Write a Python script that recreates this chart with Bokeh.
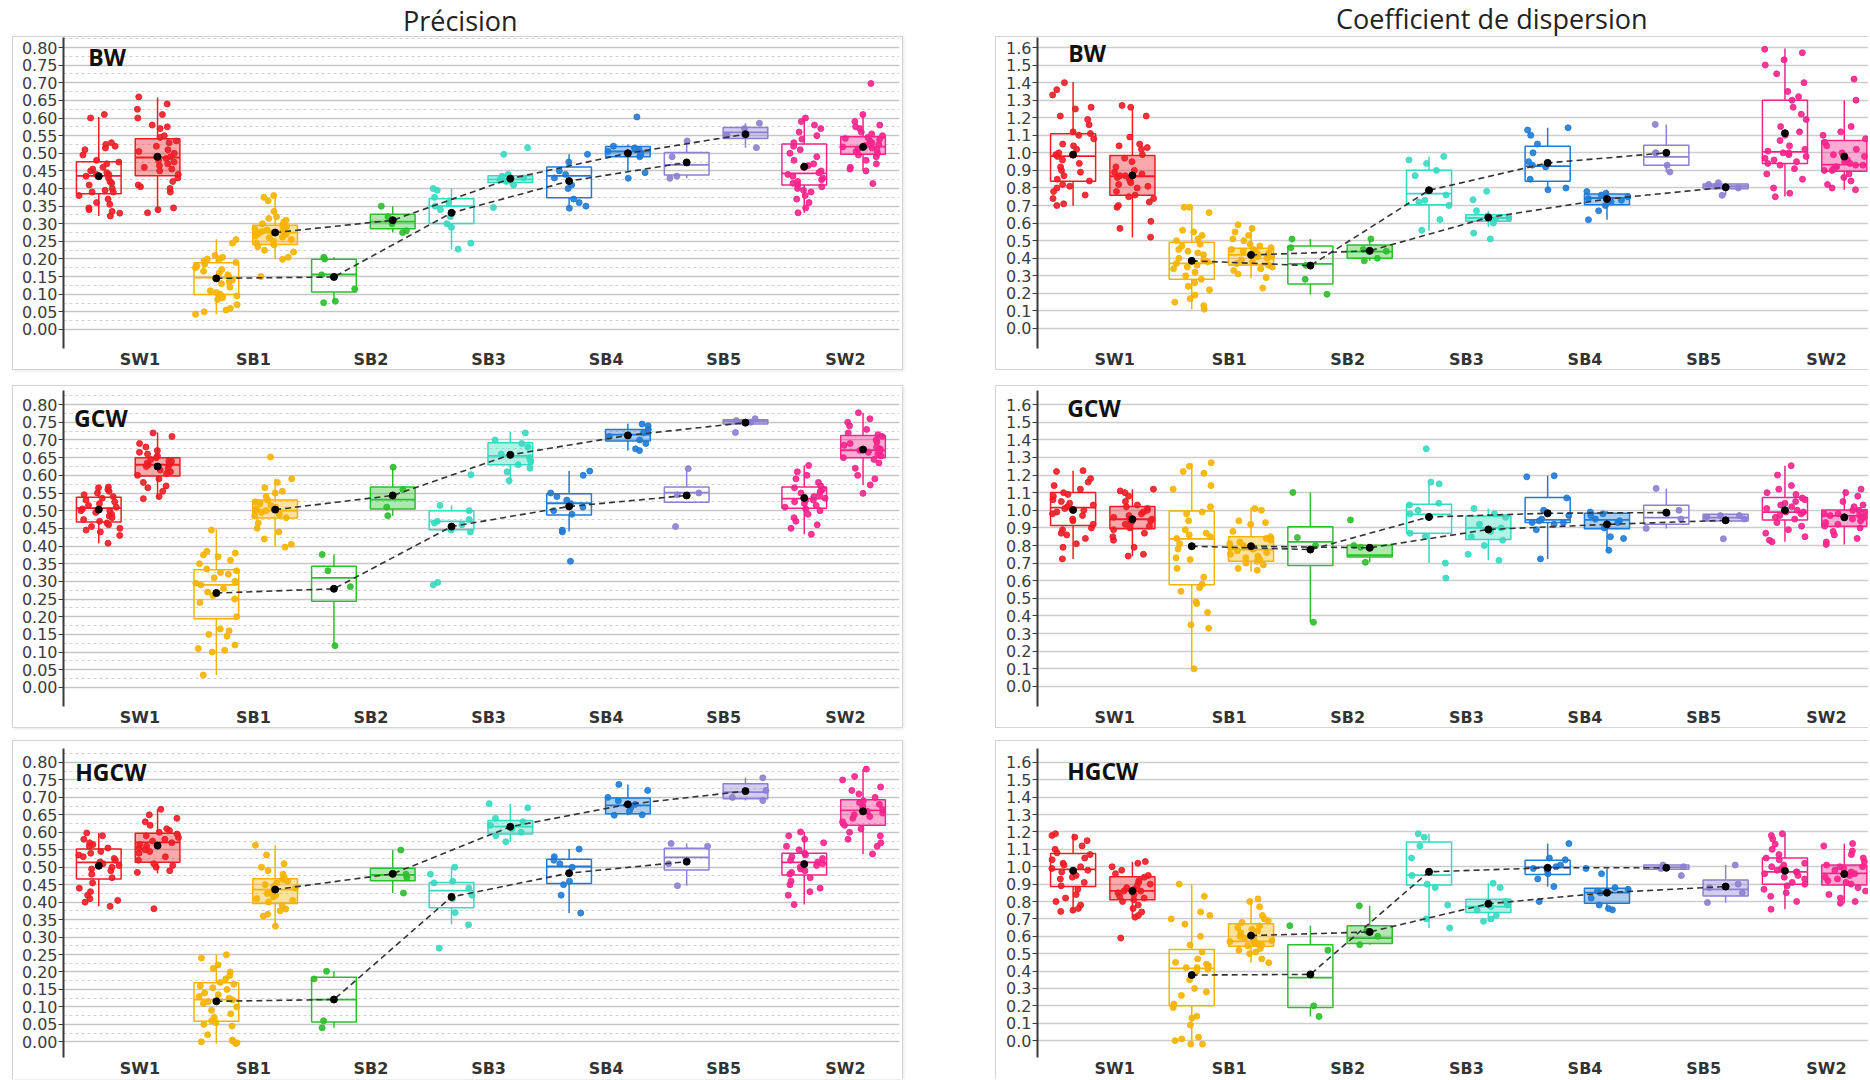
import math
from bokeh.plotting import figure
from bokeh.models import FixedTicker, Label, Div, Range1d, NumeralTickFormatter
from bokeh.layouts import column, row
from bokeh.embed import file_html
from bokeh.resources import INLINE

GROUPS = ["SW1", "SB1", "SB2", "SB3", "SB4", "SB5", "SW2"]
COLORS = ["#ee1d25", "#f6b300", "#2cbf2c", "#36d9c1", "#1f7bd6", "#8d7fd3", "#f7248c"]
TITLE_LEFT = "Précision"
TITLE_RIGHT = "Coefficient de dispersion"
TAGS = ["BW", "GCW", "HGCW"]

# ---------------- Précision / BW ----------------
PBW_O_LOW = [0.322, 0.043, 0.076, 0.227, 0.344, 0.429, 0.331]
PBW_O_Q1 = [0.385, 0.099, 0.106, 0.301, 0.374, 0.438, 0.410]
PBW_O_MED = [0.436, 0.147, 0.156, 0.350, 0.436, 0.467, 0.443]
PBW_O_Q3 = [0.476, 0.189, 0.199, 0.371, 0.461, 0.502, 0.526]
PBW_O_HIGH = [0.603, 0.256, 0.205, 0.400, 0.497, 0.535, 0.601]
PBW_O_MEAN = [0.435, 0.145, 0.149, 0.331, 0.421, 0.474, 0.462]
PBW_O_PTS = [
    [0.322, 0.33, 0.335, 0.34, 0.345, 0.355, 0.36, 0.37, 0.38, 0.39, 0.39, 0.395, 0.40, 0.41, 0.415, 0.42, 0.43, 0.435, 0.44, 0.44, 0.445, 0.45, 0.455, 0.46, 0.47, 0.475, 0.48, 0.495, 0.51, 0.515, 0.52, 0.525, 0.53, 0.60, 0.61],
    [0.043, 0.05, 0.055, 0.06, 0.07, 0.085, 0.09, 0.095, 0.10, 0.105, 0.11, 0.12, 0.13, 0.135, 0.14, 0.145, 0.15, 0.155, 0.16, 0.165, 0.17, 0.175, 0.18, 0.185, 0.19, 0.195, 0.20, 0.20, 0.205, 0.21, 0.245, 0.255],
    [0.076, 0.08, 0.115, 0.155, 0.20, 0.205],
    [0.228, 0.245, 0.29, 0.30, 0.32, 0.34, 0.35, 0.36, 0.375, 0.395, 0.40],
    [0.344, 0.35, 0.36, 0.37, 0.40, 0.41, 0.43, 0.44, 0.45, 0.475, 0.497],
    [0.429, 0.435, 0.49, 0.535],
    [0.331, 0.345, 0.36, 0.37, 0.38, 0.39, 0.395, 0.40, 0.405, 0.41, 0.415, 0.42, 0.425, 0.43, 0.435, 0.44, 0.445, 0.45, 0.46, 0.465, 0.47, 0.48, 0.49, 0.50, 0.51, 0.52, 0.53, 0.54, 0.55, 0.56, 0.57, 0.58, 0.59, 0.60],
]
PBW_F_LOW = [0.331, 0.199, 0.275, 0.410, 0.450, 0.516, 0.450]
PBW_F_Q1 = [0.436, 0.241, 0.286, 0.417, 0.490, 0.542, 0.497]
PBW_F_MED = [0.488, 0.275, 0.306, 0.426, 0.505, 0.559, 0.519]
PBW_F_Q3 = [0.541, 0.296, 0.327, 0.436, 0.519, 0.573, 0.547]
PBW_F_HIGH = [0.658, 0.374, 0.350, 0.445, 0.525, 0.585, 0.611]
PBW_F_MEAN = [0.490, 0.275, 0.310, 0.428, 0.500, 0.554, 0.518]
PBW_F_PTS = [
    [0.331, 0.34, 0.345, 0.39, 0.40, 0.405, 0.41, 0.42, 0.43, 0.44, 0.45, 0.455, 0.46, 0.465, 0.47, 0.475, 0.48, 0.485, 0.49, 0.49, 0.50, 0.505, 0.51, 0.52, 0.53, 0.535, 0.545, 0.55, 0.57, 0.575, 0.58, 0.60, 0.61, 0.625, 0.64, 0.66],
    [0.15, 0.199, 0.205, 0.22, 0.225, 0.235, 0.24, 0.245, 0.25, 0.255, 0.26, 0.262, 0.265, 0.27, 0.272, 0.275, 0.278, 0.28, 0.282, 0.285, 0.29, 0.292, 0.295, 0.30, 0.305, 0.31, 0.315, 0.32, 0.335, 0.365, 0.375, 0.38],
    [0.275, 0.28, 0.30, 0.31, 0.32, 0.35],
    [0.346, 0.41, 0.42, 0.425, 0.43, 0.435, 0.44, 0.497, 0.516],
    [0.429, 0.445, 0.49, 0.495, 0.50, 0.505, 0.51, 0.515, 0.52, 0.603],
    [0.516, 0.55, 0.57, 0.585],
    [0.414, 0.45, 0.455, 0.46, 0.47, 0.48, 0.49, 0.495, 0.50, 0.505, 0.51, 0.512, 0.515, 0.518, 0.52, 0.522, 0.525, 0.53, 0.535, 0.54, 0.542, 0.545, 0.55, 0.555, 0.56, 0.57, 0.575, 0.58, 0.59, 0.61, 0.698],
]

# ---------------- Précision / GCW ----------------
PGCW_O_LOW = [0.408, 0.035, 0.118, 0.440, 0.442, 0.524, 0.433]
PGCW_O_Q1 = [0.468, 0.194, 0.244, 0.446, 0.488, 0.524, 0.507]
PGCW_O_MED = [0.507, 0.290, 0.310, 0.470, 0.521, 0.551, 0.534]
PGCW_O_Q3 = [0.538, 0.333, 0.343, 0.500, 0.548, 0.567, 0.567]
PGCW_O_HIGH = [0.567, 0.447, 0.376, 0.515, 0.612, 0.619, 0.628]
PGCW_O_MEAN = [0.503, 0.267, 0.279, 0.455, 0.512, 0.543, 0.536]
PGCW_O_PTS = [
    [0.408, 0.43, 0.44, 0.445, 0.45, 0.455, 0.46, 0.465, 0.47, 0.475, 0.48, 0.485, 0.49, 0.495, 0.50, 0.50, 0.505, 0.51, 0.515, 0.52, 0.525, 0.53, 0.535, 0.54, 0.545, 0.55, 0.555, 0.56, 0.565, 0.567],
    [0.035, 0.10, 0.105, 0.11, 0.12, 0.145, 0.15, 0.16, 0.165, 0.20, 0.24, 0.25, 0.26, 0.27, 0.28, 0.29, 0.295, 0.30, 0.31, 0.32, 0.325, 0.33, 0.335, 0.35, 0.36, 0.37, 0.375, 0.38, 0.385, 0.445],
    [0.118, 0.285, 0.33, 0.376],
    [0.29, 0.297, 0.44, 0.445, 0.46, 0.465, 0.47, 0.475, 0.50, 0.515, 0.602],
    [0.357, 0.44, 0.445, 0.49, 0.50, 0.51, 0.52, 0.53, 0.54, 0.55, 0.60, 0.612],
    [0.455, 0.545, 0.55, 0.619],
    [0.433, 0.45, 0.46, 0.47, 0.48, 0.49, 0.50, 0.505, 0.51, 0.515, 0.52, 0.525, 0.53, 0.53, 0.535, 0.54, 0.545, 0.55, 0.555, 0.56, 0.565, 0.57, 0.58, 0.59, 0.60, 0.61, 0.628],
]
PGCW_F_LOW = [0.534, 0.397, 0.486, 0.584, 0.670, 0.745, 0.573]
PGCW_F_Q1 = [0.598, 0.479, 0.505, 0.630, 0.697, 0.745, 0.650]
PGCW_F_MED = [0.630, 0.500, 0.531, 0.655, 0.715, 0.753, 0.671]
PGCW_F_Q3 = [0.650, 0.530, 0.567, 0.692, 0.730, 0.757, 0.713]
PGCW_F_HIGH = [0.721, 0.590, 0.623, 0.723, 0.746, 0.760, 0.777]
PGCW_F_MEAN = [0.625, 0.503, 0.543, 0.658, 0.713, 0.749, 0.673]
PGCW_F_PTS = [
    [0.534, 0.54, 0.555, 0.565, 0.57, 0.58, 0.59, 0.60, 0.605, 0.61, 0.615, 0.62, 0.625, 0.63, 0.63, 0.635, 0.64, 0.64, 0.645, 0.65, 0.655, 0.66, 0.665, 0.67, 0.68, 0.69, 0.71, 0.72],
    [0.397, 0.405, 0.42, 0.44, 0.45, 0.465, 0.48, 0.485, 0.49, 0.495, 0.50, 0.50, 0.505, 0.51, 0.515, 0.52, 0.525, 0.53, 0.54, 0.55, 0.555, 0.565, 0.58, 0.59, 0.652],
    [0.486, 0.51, 0.56, 0.623],
    [0.585, 0.61, 0.62, 0.63, 0.64, 0.65, 0.66, 0.68, 0.69, 0.70, 0.72],
    [0.67, 0.675, 0.69, 0.70, 0.71, 0.72, 0.73, 0.74, 0.745],
    [0.721, 0.75, 0.755, 0.76],
    [0.549, 0.573, 0.59, 0.60, 0.62, 0.635, 0.645, 0.65, 0.655, 0.66, 0.665, 0.67, 0.67, 0.675, 0.68, 0.685, 0.69, 0.695, 0.70, 0.71, 0.715, 0.72, 0.73, 0.74, 0.75, 0.76, 0.777],
]

# ---------------- Précision / HGCW ----------------
PHGCW_O_LOW = [0.388, -0.005, 0.040, 0.336, 0.369, 0.447, 0.393]
PHGCW_O_Q1 = [0.466, 0.059, 0.057, 0.384, 0.453, 0.492, 0.478]
PHGCW_O_MED = [0.514, 0.121, 0.121, 0.433, 0.502, 0.528, 0.514]
PHGCW_O_Q3 = [0.552, 0.169, 0.185, 0.456, 0.523, 0.554, 0.540]
PHGCW_O_HIGH = [0.598, 0.249, 0.202, 0.500, 0.552, 0.568, 0.601]
PHGCW_O_MEAN = [0.504, 0.116, 0.121, 0.415, 0.483, 0.516, 0.509]
PHGCW_O_PTS = [
    [0.388, 0.40, 0.405, 0.41, 0.42, 0.43, 0.44, 0.455, 0.47, 0.48, 0.49, 0.495, 0.50, 0.505, 0.51, 0.515, 0.52, 0.525, 0.53, 0.535, 0.54, 0.545, 0.555, 0.56, 0.565, 0.57, 0.58, 0.59, 0.598],
    [-0.005, -0.003, 0.0, 0.002, 0.005, 0.02, 0.045, 0.05, 0.055, 0.06, 0.07, 0.08, 0.09, 0.10, 0.11, 0.115, 0.12, 0.125, 0.13, 0.135, 0.14, 0.15, 0.155, 0.16, 0.165, 0.17, 0.18, 0.19, 0.20, 0.21, 0.22, 0.24, 0.249],
    [0.04, 0.06, 0.18, 0.202],
    [0.268, 0.335, 0.37, 0.41, 0.42, 0.44, 0.455, 0.46, 0.48, 0.50],
    [0.369, 0.42, 0.45, 0.46, 0.50, 0.51, 0.52, 0.53, 0.552],
    [0.447, 0.51, 0.56, 0.568],
    [0.393, 0.42, 0.43, 0.44, 0.45, 0.46, 0.47, 0.48, 0.485, 0.49, 0.495, 0.50, 0.505, 0.51, 0.515, 0.52, 0.525, 0.53, 0.535, 0.54, 0.55, 0.56, 0.57, 0.58, 0.59, 0.601],
]
PHGCW_F_LOW = [0.483, 0.331, 0.426, 0.573, 0.649, 0.691, 0.538]
PHGCW_F_Q1 = [0.514, 0.396, 0.461, 0.595, 0.653, 0.696, 0.620]
PHGCW_F_MED = [0.571, 0.436, 0.478, 0.616, 0.677, 0.715, 0.663]
PHGCW_F_Q3 = [0.597, 0.467, 0.497, 0.634, 0.698, 0.739, 0.693]
PHGCW_F_HIGH = [0.666, 0.563, 0.549, 0.682, 0.737, 0.756, 0.781]
PHGCW_F_MEAN = [0.562, 0.436, 0.481, 0.616, 0.680, 0.718, 0.660]
PHGCW_F_PTS = [
    [0.381, 0.485, 0.49, 0.50, 0.505, 0.51, 0.52, 0.53, 0.54, 0.545, 0.55, 0.555, 0.56, 0.565, 0.57, 0.575, 0.58, 0.585, 0.59, 0.595, 0.60, 0.605, 0.61, 0.62, 0.63, 0.64, 0.65, 0.666],
    [0.331, 0.36, 0.365, 0.375, 0.38, 0.39, 0.40, 0.405, 0.41, 0.415, 0.42, 0.425, 0.43, 0.435, 0.44, 0.445, 0.45, 0.455, 0.46, 0.465, 0.47, 0.48, 0.49, 0.50, 0.51, 0.535, 0.563],
    [0.426, 0.47, 0.48, 0.549],
    [0.573, 0.59, 0.60, 0.61, 0.62, 0.63, 0.64, 0.67, 0.682],
    [0.649, 0.65, 0.66, 0.67, 0.68, 0.69, 0.70, 0.72, 0.737],
    [0.691, 0.70, 0.72, 0.756],
    [0.538, 0.56, 0.57, 0.58, 0.59, 0.60, 0.61, 0.62, 0.63, 0.64, 0.645, 0.65, 0.655, 0.66, 0.665, 0.67, 0.675, 0.68, 0.685, 0.69, 0.70, 0.71, 0.72, 0.73, 0.75, 0.76, 0.781],
]

# ---------------- Coefficient de dispersion / BW ----------------
CBW_O_LOW = [0.699, 0.110, 0.194, 0.556, 0.790, 0.891, 0.752]
CBW_O_Q1 = [0.838, 0.280, 0.253, 0.705, 0.838, 0.930, 0.939]
CBW_O_MED = [0.981, 0.371, 0.368, 0.768, 0.924, 0.977, 1.006]
CBW_O_Q3 = [1.109, 0.491, 0.470, 0.901, 1.038, 1.044, 1.299]
CBW_O_HIGH = [1.404, 0.690, 0.509, 0.979, 1.143, 1.162, 1.594]
CBW_O_MEAN = [0.990, 0.385, 0.358, 0.787, 0.943, 1.000, 1.112]
CBW_O_PTS = [
    [0.70, 0.71, 0.74, 0.76, 0.78, 0.80, 0.81, 0.82, 0.84, 0.85, 0.87, 0.89, 0.90, 0.92, 0.94, 0.96, 0.98, 0.99, 1.00, 1.02, 1.04, 1.05, 1.08, 1.10, 1.11, 1.12, 1.16, 1.19, 1.21, 1.25, 1.26, 1.33, 1.36, 1.40],
    [0.11, 0.13, 0.15, 0.17, 0.19, 0.22, 0.24, 0.26, 0.28, 0.30, 0.32, 0.34, 0.35, 0.36, 0.37, 0.38, 0.39, 0.40, 0.42, 0.43, 0.44, 0.45, 0.47, 0.48, 0.50, 0.51, 0.53, 0.55, 0.56, 0.66, 0.69, 0.69],
    [0.195, 0.28, 0.36, 0.46, 0.509],
    [0.56, 0.62, 0.70, 0.72, 0.73, 0.76, 0.87, 0.90, 0.94, 0.96, 0.98],
    [0.79, 0.80, 0.85, 0.92, 0.93, 0.95, 1.00, 1.05, 1.10, 1.13, 1.143],
    [0.891, 0.93, 1.00, 1.00, 1.162],
    [0.75, 0.77, 0.80, 0.85, 0.88, 0.91, 0.93, 0.94, 0.95, 0.96, 0.97, 0.98, 0.99, 1.00, 1.00, 1.01, 1.02, 1.04, 1.07, 1.10, 1.12, 1.15, 1.19, 1.22, 1.26, 1.30, 1.32, 1.35, 1.40, 1.45, 1.50, 1.53, 1.57, 1.59],
]
CBW_F_LOW = [0.518, 0.286, 0.385, 0.580, 0.619, 0.758, 0.790]
CBW_F_Q1 = [0.758, 0.362, 0.400, 0.610, 0.705, 0.796, 0.895]
CBW_F_MED = [0.867, 0.419, 0.438, 0.629, 0.743, 0.810, 0.933]
CBW_F_Q3 = [0.985, 0.457, 0.476, 0.648, 0.766, 0.823, 1.070]
CBW_F_HIGH = [1.261, 0.581, 0.510, 0.670, 0.790, 0.830, 1.300]
CBW_F_MEAN = [0.872, 0.419, 0.442, 0.632, 0.737, 0.804, 0.979]
CBW_F_PTS = [
    [0.52, 0.57, 0.61, 0.69, 0.70, 0.72, 0.74, 0.75, 0.76, 0.78, 0.80, 0.81, 0.82, 0.83, 0.84, 0.85, 0.86, 0.87, 0.87, 0.88, 0.89, 0.90, 0.92, 0.95, 0.97, 0.99, 1.02, 1.03, 1.04, 1.05, 1.09, 1.21, 1.26, 1.27],
    [0.23, 0.29, 0.31, 0.33, 0.34, 0.35, 0.36, 0.37, 0.38, 0.39, 0.40, 0.41, 0.41, 0.42, 0.42, 0.43, 0.43, 0.44, 0.44, 0.45, 0.45, 0.46, 0.47, 0.48, 0.50, 0.51, 0.53, 0.55, 0.57, 0.59],
    [0.385, 0.40, 0.44, 0.45, 0.51],
    [0.51, 0.543, 0.60, 0.62, 0.63, 0.64, 0.67, 0.733, 0.781],
    [0.619, 0.67, 0.70, 0.72, 0.73, 0.74, 0.75, 0.76, 0.77, 0.78],
    [0.758, 0.80, 0.81, 0.82, 0.83],
    [0.79, 0.80, 0.82, 0.84, 0.86, 0.88, 0.90, 0.90, 0.91, 0.92, 0.92, 0.93, 0.93, 0.94, 0.95, 0.96, 0.98, 0.99, 1.00, 1.02, 1.04, 1.06, 1.08, 1.10, 1.12, 1.15, 1.30, 1.42],
]

# ---------------- Coefficient de dispersion / GCW ----------------
CGCW_O_LOW = [0.724, 0.095, 0.364, 0.701, 0.724, 0.897, 0.821]
CGCW_O_Q1 = [0.914, 0.577, 0.686, 0.869, 0.930, 0.920, 0.945]
CGCW_O_MED = [1.015, 0.838, 0.821, 0.977, 0.945, 0.958, 0.990]
CGCW_O_Q3 = [1.101, 0.996, 0.907, 1.034, 1.072, 1.029, 1.072]
CGCW_O_HIGH = [1.225, 1.267, 1.101, 1.154, 1.196, 1.124, 1.253]
CGCW_O_MEAN = [1.002, 0.796, 0.777, 0.962, 0.983, 0.987, 1.000]
CGCW_O_PTS = [
    [0.724, 0.79, 0.81, 0.84, 0.86, 0.87, 0.89, 0.90, 0.92, 0.94, 0.95, 0.97, 0.98, 0.99, 1.00, 1.01, 1.02, 1.03, 1.04, 1.05, 1.06, 1.08, 1.09, 1.10, 1.12, 1.14, 1.16, 1.18, 1.22, 1.225],
    [0.10, 0.33, 0.35, 0.42, 0.47, 0.48, 0.54, 0.56, 0.58, 0.62, 0.67, 0.72, 0.73, 0.78, 0.81, 0.84, 0.85, 0.86, 0.87, 0.89, 0.94, 0.98, 0.99, 1.02, 1.12, 1.14, 1.21, 1.22, 1.25, 1.27],
    [0.364, 0.80, 0.845, 1.101],
    [0.615, 0.70, 0.85, 0.87, 0.96, 0.98, 1.00, 1.03, 1.04, 1.15, 1.16, 1.349],
    [0.724, 0.89, 0.92, 0.93, 0.93, 0.94, 0.95, 0.97, 1.00, 1.07, 1.19, 1.196],
    [0.897, 0.95, 0.98, 1.00, 1.124],
    [0.821, 0.83, 0.85, 0.87, 0.89, 0.91, 0.93, 0.95, 0.96, 0.97, 0.98, 0.99, 0.99, 1.00, 1.01, 1.02, 1.03, 1.04, 1.05, 1.06, 1.07, 1.09, 1.10, 1.12, 1.14, 1.20, 1.253],
]
CGCW_F_LOW = [0.739, 0.653, 0.705, 0.716, 0.773, 0.939, 0.806]
CGCW_F_Q1 = [0.895, 0.710, 0.735, 0.834, 0.895, 0.939, 0.910]
CGCW_F_MED = [0.949, 0.777, 0.745, 0.900, 0.945, 0.958, 0.968]
CGCW_F_Q3 = [1.021, 0.850, 0.802, 0.968, 0.983, 0.977, 1.002]
CGCW_F_HIGH = [1.120, 1.015, 0.802, 1.010, 0.996, 0.977, 1.120]
CGCW_F_MEAN = [0.949, 0.796, 0.787, 0.891, 0.920, 0.943, 0.960]
CGCW_F_PTS = [
    [0.74, 0.75, 0.79, 0.83, 0.85, 0.87, 0.89, 0.90, 0.91, 0.92, 0.93, 0.94, 0.94, 0.95, 0.95, 0.96, 0.97, 0.98, 0.99, 1.00, 1.01, 1.02, 1.03, 1.05, 1.08, 1.10, 1.11, 1.12],
    [0.66, 0.67, 0.69, 0.70, 0.71, 0.72, 0.73, 0.74, 0.75, 0.76, 0.77, 0.78, 0.78, 0.79, 0.80, 0.81, 0.82, 0.83, 0.84, 0.85, 0.88, 0.92, 0.93, 0.94, 1.00, 1.01],
    [0.705, 0.79, 0.80, 0.945],
    [0.716, 0.75, 0.80, 0.83, 0.85, 0.88, 0.90, 0.92, 0.96, 0.98, 1.01],
    [0.773, 0.84, 0.85, 0.90, 0.93, 0.94, 0.95, 0.97, 0.98, 0.99],
    [0.838, 0.95, 0.96, 0.97, 0.97],
    [0.806, 0.82, 0.84, 0.86, 0.88, 0.90, 0.91, 0.92, 0.93, 0.94, 0.95, 0.96, 0.96, 0.97, 0.97, 0.98, 0.98, 0.99, 1.00, 1.00, 1.02, 1.03, 1.05, 1.08, 1.10, 1.12],
]

# ---------------- Coefficient de dispersion / HGCW ----------------
CHGCW_O_LOW = [0.743, -0.020, 0.139, 0.648, 0.886, 0.985, 0.756]
CHGCW_O_Q1 = [0.886, 0.200, 0.190, 0.895, 0.956, 0.985, 0.899]
CHGCW_O_MED = [0.985, 0.415, 0.362, 0.952, 0.996, 0.996, 0.971]
CHGCW_O_Q3 = [1.076, 0.524, 0.552, 1.143, 1.038, 1.010, 1.051]
CHGCW_O_HIGH = [1.190, 0.900, 0.661, 1.190, 1.133, 1.010, 1.190]
CHGCW_O_MEAN = [0.977, 0.377, 0.381, 0.971, 0.994, 0.994, 0.977]
CHGCW_O_PTS = [
    [0.743, 0.75, 0.76, 0.78, 0.80, 0.82, 0.84, 0.87, 0.89, 0.91, 0.93, 0.94, 0.95, 0.97, 0.98, 0.99, 1.00, 1.01, 1.02, 1.04, 1.05, 1.07, 1.08, 1.10, 1.12, 1.15, 1.17, 1.18, 1.19],
    [-0.02, -0.02, 0.0, 0.01, 0.02, 0.09, 0.13, 0.14, 0.19, 0.21, 0.26, 0.28, 0.30, 0.35, 0.40, 0.41, 0.42, 0.42, 0.43, 0.44, 0.45, 0.47, 0.51, 0.55, 0.60, 0.67, 0.70, 0.72, 0.74, 0.83, 0.90],
    [0.139, 0.20, 0.52, 0.661],
    [0.648, 0.70, 0.78, 0.88, 0.90, 0.95, 1.05, 1.12, 1.17, 1.19],
    [0.80, 0.886, 0.93, 0.96, 0.98, 0.99, 1.00, 1.01, 1.04, 1.05, 1.133],
    [0.949, 0.99, 1.00, 1.01],
    [0.756, 0.80, 0.83, 0.85, 0.87, 0.89, 0.90, 0.91, 0.93, 0.94, 0.95, 0.96, 0.97, 0.97, 0.98, 0.99, 1.00, 1.01, 1.02, 1.04, 1.05, 1.07, 1.10, 1.13, 1.16, 1.18, 1.19],
]
CHGCW_F_LOW = [0.705, 0.448, 0.552, 0.686, 0.752, 0.794, 0.790]
CHGCW_F_Q1 = [0.810, 0.543, 0.558, 0.737, 0.790, 0.832, 0.895]
CHGCW_F_MED = [0.861, 0.571, 0.590, 0.771, 0.851, 0.870, 0.962]
CHGCW_F_Q3 = [0.943, 0.672, 0.661, 0.813, 0.876, 0.924, 1.010]
CHGCW_F_HIGH = [1.029, 0.815, 0.775, 0.905, 0.990, 1.010, 1.133]
CHGCW_F_MEAN = [0.861, 0.604, 0.625, 0.787, 0.851, 0.886, 0.958]
CHGCW_F_PTS = [
    [0.59, 0.71, 0.72, 0.74, 0.76, 0.78, 0.80, 0.81, 0.82, 0.83, 0.84, 0.85, 0.86, 0.86, 0.87, 0.88, 0.89, 0.90, 0.91, 0.92, 0.94, 0.95, 0.96, 0.98, 1.00, 1.02, 1.03],
    [0.448, 0.47, 0.50, 0.51, 0.52, 0.53, 0.545, 0.55, 0.555, 0.56, 0.565, 0.57, 0.575, 0.58, 0.59, 0.60, 0.62, 0.63, 0.64, 0.65, 0.66, 0.68, 0.69, 0.70, 0.72, 0.77, 0.80, 0.815],
    [0.552, 0.60, 0.63, 0.775],
    [0.686, 0.70, 0.72, 0.75, 0.77, 0.78, 0.80, 0.88, 0.905],
    [0.752, 0.76, 0.78, 0.82, 0.85, 0.86, 0.87, 0.88, 0.96, 0.99],
    [0.794, 0.85, 0.88, 0.90, 1.01],
    [0.79, 0.80, 0.82, 0.84, 0.86, 0.88, 0.90, 0.91, 0.92, 0.93, 0.94, 0.95, 0.96, 0.96, 0.97, 0.98, 0.99, 1.00, 1.00, 1.01, 1.03, 1.05, 1.07, 1.09, 1.12, 1.133],
]

# ---------------- axis ticks ----------------
P_TICKS = [round(0.05 * k, 2) for k in range(17)]
P_MINOR = [round(0.025 + 0.05 * k, 3) for k in range(17)]
C_TICKS = [round(0.1 * k, 1) for k in range(17)]
X_LABEL_POS = [0.10, 1.065, 2.065, 3.065, 4.065, 5.065, 6.10]

BOXW = 0.38
DX = 0.25
JIT = 0.18


def jitter(center, n, seed):
    out = []
    for k in range(n):
        h = math.sin((k + 1) * 12.9898 + seed * 78.233) * 43758.5453
        out.append(center + ((h - math.floor(h)) - 0.5) * 2 * JIT)
    return out


def draw_boxes(p, stats, pts, dx, filled, seed):
    low, q1, med, q3, high, mean = stats
    xs = [i + dx for i in range(len(GROUPS))]
    p.segment(x0=xs, y0=q3, x1=xs, y1=high, line_color=COLORS, line_width=1.5)
    p.segment(x0=xs, y0=low, x1=xs, y1=q1, line_color=COLORS, line_width=1.5)
    if filled:
        p.vbar(x=xs, width=BOXW, bottom=q1, top=q3, fill_color=COLORS, fill_alpha=0.38,
               line_color=COLORS, line_width=1.5)
    else:
        p.vbar(x=xs, width=BOXW, bottom=q1, top=q3, fill_color=None,
               line_color=COLORS, line_width=1.5)
    p.segment(x0=[x - BOXW / 2 for x in xs], y0=med, x1=[x + BOXW / 2 for x in xs], y1=med,
              line_color=COLORS, line_width=1.8)
    px, py, pc = [], [], []
    for i, vals in enumerate(pts):
        px += jitter(xs[i], len(vals), seed * 10 + i)
        py += vals
        pc += [COLORS[i]] * len(vals)
    p.scatter(x=px, y=py, size=6, fill_color=pc, line_color=pc, fill_alpha=0.9, line_alpha=0.9)
    return xs, mean


def make_panel(o_stats, f_stats, o_pts, f_pts, tag, tag_xy, kind, width, height,
               mbl, mbr, mbt, mbb, x_end, y_rng, margin, styles, seed):
    p = figure(width=width, height=height, x_range=Range1d(-0.55, x_end), y_range=Range1d(*y_rng),
               output_backend="svg", toolbar_location=None,
               min_border_left=mbl, min_border_right=mbr, min_border_top=mbt, min_border_bottom=mbb,
               margin=margin, styles=styles, background_fill_color="white", border_fill_color="white")
    p.outline_line_color = None
    p.xgrid.visible = False
    if kind == "P":
        p.yaxis.ticker = FixedTicker(ticks=P_TICKS, minor_ticks=P_MINOR)
        p.yaxis.formatter = NumeralTickFormatter(format="0.00")
        p.ygrid.grid_line_color = "#c6c6c6"
        p.ygrid.grid_line_width = 1.3
        p.ygrid.minor_grid_line_color = "#d0d0d0"
        p.ygrid.minor_grid_line_dash = "3 3"
        p.ygrid.minor_grid_line_width = 1
    else:
        p.yaxis.ticker = FixedTicker(ticks=C_TICKS)
        p.yaxis.formatter = NumeralTickFormatter(format="0.0")
        p.ygrid.grid_line_color = "#cdcdcd"
        p.ygrid.grid_line_width = 1.6
    p.yaxis.axis_line_color = "#3a3a3a"
    p.yaxis.axis_line_width = 2
    p.yaxis.major_tick_out = 5
    p.yaxis.major_tick_in = 0
    p.yaxis.minor_tick_out = 0
    p.yaxis.minor_tick_in = 0
    p.yaxis.major_tick_line_color = "#3a3a3a"
    p.yaxis.minor_tick_line_color = None
    p.yaxis.major_label_standoff = 1
    p.yaxis.major_label_text_font = "DejaVu Sans"
    p.yaxis.major_label_text_font_size = "16px"
    p.yaxis.major_label_text_color = "#3c3c3c"

    p.xaxis.ticker = FixedTicker(ticks=X_LABEL_POS)
    p.xaxis.major_label_overrides = {pos: g for pos, g in zip(X_LABEL_POS, GROUPS)}
    p.xaxis.axis_line_color = None
    p.xaxis.major_tick_line_color = None
    p.xaxis.minor_tick_line_color = None
    p.xaxis.major_tick_out = 0
    p.xaxis.major_tick_in = 0
    p.xaxis.minor_tick_out = 0
    p.xaxis.minor_tick_in = 0
    p.xaxis.major_label_standoff = 1
    p.xaxis.major_label_text_font = "DejaVu Sans"
    p.xaxis.major_label_text_font_style = "bold"
    p.xaxis.major_label_text_font_size = "16px"
    p.xaxis.major_label_text_color = "#333333"

    xo, mo = draw_boxes(p, o_stats, o_pts, -DX, False, seed)
    xf, mf = draw_boxes(p, f_stats, f_pts, DX, True, seed + 50)
    p.line(x=xo[1:6], y=mo[1:6], line_color="#333333", line_width=1.6, line_dash="6 4")
    p.line(x=xf[1:6], y=mf[1:6], line_color="#333333", line_width=1.6, line_dash="6 4")
    p.scatter(x=xo + xf, y=list(mo) + list(mf), size=7, color="black")

    p.add_layout(Label(x=tag_xy[0], y=tag_xy[1], text=tag, text_font="Open Sans",
                       text_font_style="bold", text_font_size="23px", text_color="#111111",
                       text_baseline="middle", text_align="left"))
    return p


BORDER = "1px solid #d4d4d4"
SHADOW = "1px 1px 3px rgba(0,0,0,0.10)"

LW, RW = 891, 873
L_MBL, L_MBR = 50, 5
R_MBL = 41
L_XEND = -0.55 + (LW - 2 - L_MBL - L_MBR) / 117.3
R_XEND = -0.55 + (RW - 1 - R_MBL) / 118.5

rows_spec = [
    # (height, top_margin, mbt, mbb, p_range, c_range)
    (334, 0, 0, 22, (-0.054, 0.8285), (-0.114, 1.657)),
    (343, 15, 4, 23, (-0.054, 0.840), (-0.114, 1.680)),
    (339, 12, 7, 20, (-0.045, 0.840), (-0.097, 1.680)),
]
P_DATA = [
    ((PBW_O_LOW, PBW_O_Q1, PBW_O_MED, PBW_O_Q3, PBW_O_HIGH, PBW_O_MEAN),
     (PBW_F_LOW, PBW_F_Q1, PBW_F_MED, PBW_F_Q3, PBW_F_HIGH, PBW_F_MEAN), PBW_O_PTS, PBW_F_PTS),
    ((PGCW_O_LOW, PGCW_O_Q1, PGCW_O_MED, PGCW_O_Q3, PGCW_O_HIGH, PGCW_O_MEAN),
     (PGCW_F_LOW, PGCW_F_Q1, PGCW_F_MED, PGCW_F_Q3, PGCW_F_HIGH, PGCW_F_MEAN), PGCW_O_PTS, PGCW_F_PTS),
    ((PHGCW_O_LOW, PHGCW_O_Q1, PHGCW_O_MED, PHGCW_O_Q3, PHGCW_O_HIGH, PHGCW_O_MEAN),
     (PHGCW_F_LOW, PHGCW_F_Q1, PHGCW_F_MED, PHGCW_F_Q3, PHGCW_F_HIGH, PHGCW_F_MEAN), PHGCW_O_PTS, PHGCW_F_PTS),
]
C_DATA = [
    ((CBW_O_LOW, CBW_O_Q1, CBW_O_MED, CBW_O_Q3, CBW_O_HIGH, CBW_O_MEAN),
     (CBW_F_LOW, CBW_F_Q1, CBW_F_MED, CBW_F_Q3, CBW_F_HIGH, CBW_F_MEAN), CBW_O_PTS, CBW_F_PTS),
    ((CGCW_O_LOW, CGCW_O_Q1, CGCW_O_MED, CGCW_O_Q3, CGCW_O_HIGH, CGCW_O_MEAN),
     (CGCW_F_LOW, CGCW_F_Q1, CGCW_F_MED, CGCW_F_Q3, CGCW_F_HIGH, CGCW_F_MEAN), CGCW_O_PTS, CGCW_F_PTS),
    ((CHGCW_O_LOW, CHGCW_O_Q1, CHGCW_O_MED, CHGCW_O_Q3, CHGCW_O_HIGH, CHGCW_O_MEAN),
     (CHGCW_F_LOW, CHGCW_F_Q1, CHGCW_F_MED, CHGCW_F_Q3, CHGCW_F_HIGH, CHGCW_F_MEAN), CHGCW_O_PTS, CHGCW_F_PTS),
]
P_TAG_XY = [(-0.34, 0.774), (-0.46, 0.762), (-0.45, 0.774)]
C_TAG_XY = [(-0.29, 1.57), (-0.30, 1.58), (-0.30, 1.55)]

title_style = "font-family:'Open Sans';font-size:27px;line-height:30px;color:#222;white-space:nowrap;"
div_l = Div(text=f'<div style="{title_style}padding-left:403px;padding-top:6px;">{TITLE_LEFT}</div>',
            width=903, height=36, margin=(0, 0, 0, 0))
div_r = Div(text=f'<div style="{title_style}padding-left:433px;padding-top:4px;">{TITLE_RIGHT}</div>',
            width=965, height=36, margin=(0, 0, 0, 0))

rows = [row(div_l, div_r)]
for r, (h, tm, mbt, mbb, prng, crng) in enumerate(rows_spec):
    last = r == 2
    l_styles = {"border-top": BORDER, "border-left": BORDER, "border-right": BORDER, "box-shadow": SHADOW}
    r_styles = {"border-top": BORDER, "border-left": BORDER}
    if not last:
        l_styles["border-bottom"] = BORDER
        r_styles["border-bottom"] = BORDER
    po, pf, ppo, ppf = P_DATA[r]
    co, cf, cpo, cpf = C_DATA[r]
    pl = make_panel(po, pf, ppo, ppf, TAGS[r], P_TAG_XY[r], "P", LW, h, L_MBL, L_MBR, mbt, mbb,
                    L_XEND, prng, (tm, 0, 0, 12), l_styles, r * 3 + 1)
    pr = make_panel(co, cf, cpo, cpf, TAGS[r], C_TAG_XY[r], "C", RW, h, R_MBL, 0, mbt, mbb,
                    R_XEND, crng, (tm, 0, 0, 92), r_styles, r * 3 + 2)
    rows.append(row(pl, pr))

layout = column(*rows)
open("out.html", "w").write(file_html(layout, INLINE))
